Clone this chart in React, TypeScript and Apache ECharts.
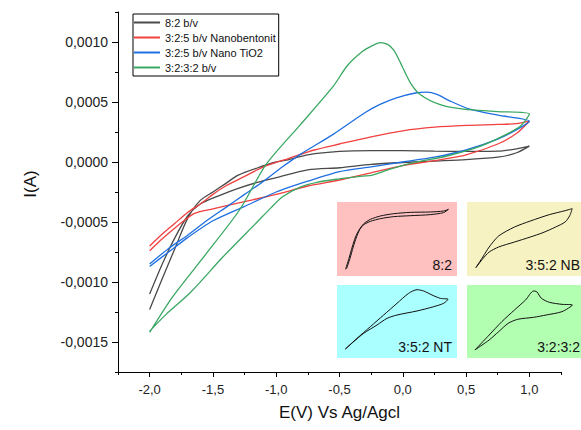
import React, { useEffect, useRef } from 'react';
import * as echarts from 'echarts';

type Pt = [number, number];

// Cyclic voltammograms: forward sweep from -2.0 V to 1.0 V, then reverse sweep back (E in V, I in A)
const cv82: Pt[] = [
  [-2.0, -0.00123], [-1.9, -0.00097], [-1.8, -0.00072], [-1.7, -0.00047], [-1.6, -0.00032],
  [-1.5, -0.00025], [-1.4, -0.00018], [-1.3, -0.00011], [-1.15, -0.00005], [-1.0, 0.0],
  [-0.9, 0.00002], [-0.75, 0.00006], [-0.5, 0.000088], [-0.25, 0.000095], [0.0, 0.000094],
  [0.25, 0.00009], [0.5, 0.000088], [0.75, 0.00009], [0.9, 0.00011], [1.0, 0.000132],
  [0.9, 0.000077], [0.75, 0.00004], [0.5, 0.00002], [0.25, 0.000008], [0.0, -0.000004],
  [-0.25, -0.00002], [-0.5, -0.000048], [-0.75, -0.000065], [-1.0, -0.00013], [-1.15, -0.00017],
  [-1.3, -0.00022], [-1.45, -0.00028], [-1.6, -0.00035], [-1.7, -0.00045], [-1.8, -0.00063],
  [-1.9, -0.00085], [-2.0, -0.0011],
];

const cvNanobentonit: Pt[] = [
  [-2.0, -0.0007], [-1.9, -0.0006], [-1.8, -0.00051], [-1.7, -0.00042], [-1.6, -0.00035],
  [-1.5, -0.00027], [-1.4, -0.0002], [-1.25, -0.00012], [-1.1, -0.00004], [-0.9, 0.00003],
  [-0.7, 0.0001], [-0.5, 0.00015], [-0.25, 0.00021], [0.0, 0.00026], [0.25, 0.00029],
  [0.5, 0.000305], [0.75, 0.000313], [0.9, 0.00032], [1.0, 0.00034],
  [0.9, 0.00024], [0.75, 0.00015], [0.5, 0.00006], [0.25, 0.000012], [0.0, -0.00003],
  [-0.25, -0.00009], [-0.5, -0.00015], [-0.75, -0.0002], [-1.0, -0.00027], [-1.25, -0.00033],
  [-1.5, -0.00039], [-1.65, -0.00043], [-1.8, -0.00055], [-1.9, -0.00064], [-2.0, -0.00074],
];

const cvNanoTiO2: Pt[] = [
  [-2.0, -0.00085], [-1.85, -0.00072], [-1.7, -0.00061], [-1.55, -0.00049], [-1.4, -0.00038],
  [-1.25, -0.00027], [-1.1, -0.00016], [-0.95, -0.00004], [-0.8, 0.00007], [-0.55, 0.00023],
  [-0.3, 0.00041], [-0.18, 0.00048], [-0.05, 0.000535], [0.1, 0.000575], [0.19, 0.000582],
  [0.27, 0.000563], [0.37, 0.00051], [0.53, 0.00044], [0.75, 0.00039], [1.0, 0.00034],
  [0.9, 0.00027], [0.75, 0.00019], [0.5, 0.0001], [0.25, 0.00004], [0.0, 0.0],
  [-0.25, -0.00004], [-0.5, -0.00008], [-0.75, -0.00016], [-1.0, -0.00025], [-1.25, -0.00037],
  [-1.5, -0.00049], [-1.7, -0.00063], [-1.85, -0.00075], [-2.0, -0.00087],
];

const cv3232: Pt[] = [
  [-2.0, -0.00142], [-1.816, -0.00112], [-1.55, -0.00076], [-1.29, -0.0004], [-1.08, -0.00002],
  [-0.81, 0.00031], [-0.55, 0.00063], [-0.44, 0.0008], [-0.32, 0.00092], [-0.24, 0.00097],
  [-0.18, 0.000995], [-0.12, 0.00098], [-0.07, 0.00093], [-0.02, 0.00083], [0.06, 0.00066],
  [0.14, 0.00056], [0.29, 0.00048], [0.48, 0.00044], [0.75, 0.00042], [1.0, 0.0004],
  [0.93, 0.0003], [0.79, 0.000215], [0.61, 0.00013], [0.35, 0.00005], [0.08, -0.000007],
  [-0.1, -0.00006], [-0.24, -0.00011], [-0.32, -0.000118], [-0.42, -0.00013], [-0.5, -0.00014],
  [-0.68, -0.00017], [-0.81, -0.00021], [-0.95, -0.00029], [-1.04, -0.00038], [-1.16, -0.00051],
  [-1.42, -0.00079], [-1.68, -0.00109], [-1.87, -0.00127], [-2.0, -0.00141],
];

const seriesNames = ['8:2 b/v', '3:2:5 b/v Nanobentonit', '3:2:5 b/v Nano TiO2', '3:2:3:2 b/v'];
const seriesColors = ['#4a4a4a', '#f0403f', '#1f6fe0', '#3aa862'];
const seriesData = [cv82, cvNanobentonit, cvNanoTiO2, cv3232];

// Labelled tick positions
const xTickValues = [-2.0, -1.5, -1.0, -0.5, 0.0, 0.5, 1.0];
const yTickValues = [-0.0015, -0.001, -0.0005, 0.0, 0.0005, 0.001];

// Inset voltammograms (E in V, current normalised to the inset height)
const inset82: Pt[] = [
  [-2.0, 0.09], [-1.903, 0.234], [-1.806, 0.392], [-1.71, 0.527], [-1.613, 0.617],
  [-1.468, 0.707], [-1.274, 0.766], [-0.984, 0.811], [-0.597, 0.842], [-0.113, 0.86],
  [0.468, 0.865], [0.855, 0.878], [1.0, 0.901],
  [0.855, 0.856], [0.468, 0.829], [-0.113, 0.815], [-0.597, 0.802], [-0.984, 0.775],
  [-1.274, 0.739], [-1.468, 0.694], [-1.584, 0.631], [-1.681, 0.527], [-1.777, 0.392],
  [-1.874, 0.234], [-1.971, 0.099],
];

const inset352NB: Pt[] = [
  [-1.978, 0.113], [-1.764, 0.257], [-1.569, 0.392], [-1.278, 0.541], [-0.792, 0.662],
  [-0.306, 0.743], [0.278, 0.829], [0.764, 0.883], [0.978, 0.91],
  [0.91, 0.82], [0.764, 0.73], [0.472, 0.662], [0.083, 0.586], [-0.306, 0.527],
  [-0.792, 0.459], [-1.278, 0.392], [-1.569, 0.324], [-1.764, 0.234], [-1.978, 0.113],
];

const inset352NT: Pt[] = [
  [-2.007, 0.123], [-1.667, 0.269], [-1.278, 0.429], [-0.889, 0.589], [-0.5, 0.749],
  [-0.16, 0.886], [0.083, 0.936], [0.278, 0.918], [0.521, 0.863], [0.764, 0.817], [0.988, 0.804],
  [0.861, 0.749], [0.569, 0.703], [0.083, 0.644], [-0.5, 0.589], [-0.792, 0.543],
  [-1.083, 0.452], [-1.472, 0.338], [-1.764, 0.224], [-2.007, 0.123],
];

const inset3232: Pt[] = [
  [-2.007, 0.11], [-1.569, 0.315], [-1.181, 0.498], [-0.792, 0.658], [-0.451, 0.795],
  [-0.208, 0.918], [-0.111, 0.909], [0.035, 0.817], [0.278, 0.763], [0.667, 0.735], [0.988, 0.726],
  [0.667, 0.635], [0.181, 0.589], [-0.208, 0.557], [-0.694, 0.53], [-0.986, 0.475],
  [-1.278, 0.361], [-1.569, 0.247], [-2.007, 0.11],
];

const insetLabels = ['8:2', '3:5:2 NB', '3:5:2 NT', '3:2:3:2'];
const insetColors = ['#ffc0c0', '#f6f2c2', '#aaffff', '#b2ffb2'];
const insetData = [inset82, inset352NB, inset352NT, inset3232];

const FONT = 'Liberation Sans, Arial, sans-serif';

const comma = (v: number, digits: number) => {
  const s = (Math.abs(v) < 1e-12 ? 0 : v).toFixed(digits);
  return s.replace('.', ',');
};

// Inset panel boxes (left, top, width, height) in px
const insetBoxes = [
  [337, 202, 120, 74],
  [467, 202, 120, 74],
  [337, 285, 120, 73],
  [467, 285, 120, 73],
];

const X_MIN = -2.25;
const X_MAX = 1.25;
const Y_MIN = -0.00175;
const Y_MAX = 0.00125;

export default function App() {
  const ref = useRef<HTMLDivElement>(null);

  useEffect(() => {
    if (!ref.current) return;
    const chart = echarts.init(ref.current, undefined, { renderer: 'svg' });

    const grids: any[] = [
      { left: 118, top: 12, right: 20, bottom: 58 },
      ...insetBoxes.map((b, i) => ({
        left: b[0], top: b[1], width: b[2], height: b[3],
        show: true, backgroundColor: insetColors[i], borderWidth: 0,
      })),
    ];

    const line = () => ({ color: '#000', width: 1 });

    const xAxes: any[] = [
      {
        gridIndex: 0, type: 'value', min: X_MIN, max: X_MAX, position: 'bottom',
        axisLine: { show: true, onZero: false, lineStyle: line() },
        axisTick: { show: true, inside: false, length: 5, customValues: xTickValues, lineStyle: line() },
        axisLabel: {
          color: '#222', fontSize: 13, fontFamily: FONT, margin: 11,
          customValues: xTickValues, formatter: (v: number) => comma(v, 1),
        },
        splitLine: { show: false },
        name: 'E(V) Vs Ag/Agcl', nameLocation: 'middle', nameGap: 32,
        nameTextStyle: { color: '#111', fontSize: 17, fontFamily: FONT },
      },
      {
        // quarter-step minor ticks
        gridIndex: 0, type: 'value', min: X_MIN, max: X_MAX, interval: 0.25, position: 'bottom',
        axisLine: { show: false, onZero: false }, axisLabel: { show: false }, splitLine: { show: false },
        axisTick: { show: true, inside: false, length: 3, lineStyle: line() },
      },
      ...insetBoxes.map((_, i) => ({
        gridIndex: i + 1, type: 'value', min: X_MIN, max: X_MAX, show: false,
      })),
    ];

    const yAxes: any[] = [
      {
        gridIndex: 0, type: 'value', min: Y_MIN, max: Y_MAX, position: 'left',
        axisLine: { show: true, onZero: false, lineStyle: line() },
        axisTick: { show: true, inside: false, length: 6, customValues: yTickValues, lineStyle: line() },
        axisLabel: {
          color: '#222', fontSize: 14, fontFamily: FONT, margin: 10,
          customValues: yTickValues, formatter: (v: number) => comma(v, 4),
        },
        splitLine: { show: false },
      },
      {
        gridIndex: 0, type: 'value', min: Y_MIN, max: Y_MAX, interval: 0.00025, position: 'left',
        axisLine: { show: false, onZero: false }, axisLabel: { show: false }, splitLine: { show: false },
        axisTick: { show: true, inside: false, length: 3, lineStyle: line() },
      },
      ...insetBoxes.map((_, i) => ({
        gridIndex: i + 1, type: 'value', min: 0, max: 1, show: false,
      })),
    ];

    const mainSeries = seriesData.map((d, i) => ({
      name: seriesNames[i], type: 'line', xAxisIndex: 0, yAxisIndex: 0,
      data: d, showSymbol: false, symbol: 'none', smooth: 0.25,
      lineStyle: { color: seriesColors[i], width: 1.3 }, itemStyle: { color: seriesColors[i] },
    }));

    const insetSeries = insetData.map((d, i) => ({
      type: 'line', xAxisIndex: i + 2, yAxisIndex: i + 2,
      data: d, showSymbol: false, symbol: 'none', smooth: 0.25,
      lineStyle: { color: '#111', width: 1 }, silent: true,
    }));

    const labelText: any[] = insetLabels.map((t, i) => ({
      type: 'text',
      right: 581 - Math.min(insetBoxes[i][0] + insetBoxes[i][2] - 5, 580),
      top: insetBoxes[i][1] + insetBoxes[i][3] - 18,
      z: 10,
      style: { text: t, fill: '#111', font: `14px ${FONT}` },
    }));

    chart.setOption({
      animation: false,
      backgroundColor: '#fff',
      textStyle: { fontFamily: FONT },
      grid: grids,
      xAxis: xAxes,
      yAxis: yAxes,
      legend: {
        data: seriesNames, orient: 'vertical', left: 133, top: 14,
        itemWidth: 26, itemHeight: 11, itemGap: 4, itemStyle: { opacity: 0 },
        borderColor: '#000', borderWidth: 1, padding: [3, 3, 3, 0],
        textStyle: { fontSize: 11, color: '#111', fontFamily: FONT },
      },
      graphic: labelText,
      series: [...mainSeries, ...insetSeries],
    });

    // Frame bars and the rotated current label, placed from the main grid's own scale
    const finder = { xAxisIndex: 0, yAxisIndex: 0 };
    const corner = chart.convertToPixel(finder, [X_MIN, Y_MIN]) as number[];
    const topPt = chart.convertToPixel(finder, [X_MIN, Y_MAX]) as number[];
    const rightPt = chart.convertToPixel(finder, [X_MAX, Y_MIN]) as number[];
    if (corner && topPt && rightPt) {
      const xl = Math.round(corner[0]);
      const yb = Math.round(corner[1]);
      const yt = Math.round(topPt[1]);
      const xr = Math.round(rightPt[0]);
      chart.setOption({
        graphic: [
          ...labelText,
          {
            type: 'rect', z: 50, silent: true,
            shape: { x: xl, y: yt, width: 1, height: yb - yt + 1 },
            style: { fill: '#000' },
          },
          {
            type: 'rect', z: 50, silent: true,
            shape: { x: xl, y: yb, width: xr - xl + 1, height: 1 },
            style: { fill: '#000' },
          },
          {
            type: 'text', z: 50, silent: true,
            x: xl - 88, y: (yt + yb) / 2 - 8, rotation: Math.PI / 2,
            style: {
              text: 'I(A)', fill: '#111', font: `17px ${FONT}`,
              textAlign: 'center', textVerticalAlign: 'middle',
            },
          },
        ],
      });
    }

    return () => chart.dispose();
  }, []);

  return (
    <div
      ref={ref}
      style={{ position: 'absolute', left: 0, top: 0, width: 581, height: 430 }}
    />
  );
}
